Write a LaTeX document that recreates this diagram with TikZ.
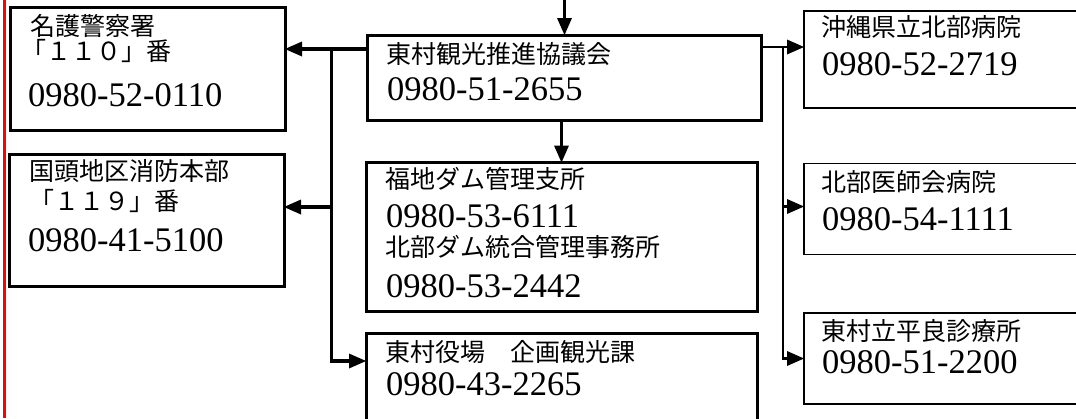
\documentclass[tikz,border=0pt]{standalone}
\usepackage{fontspec}
\usepackage{tikz}
\usetikzlibrary{arrows.meta}
\newfontfamily\jpfont{Noto Sans CJK JP}
\newfontfamily\numfont{Liberation Serif}
\tikzset{
    box/.style={rectangle, draw, line width=3pt, inner sep=0pt, outer sep=0pt},
    thinbox/.style={box, line width=1.3pt}
}
\tikzset{
    jp/.style={anchor=base west, inner sep=0pt,
    	font=\jpfont\fontsize{25}{29}\selectfont},
    num/.style={anchor=base west, inner sep=0pt,
    	font=\numfont\fontsize{34.5}{40}\selectfont}
}
\tikzset{
    conn/.style={line width=3.5pt, -{Triangle[length=17pt,width=15pt,line width=0pt]}},
    midconn/.style={conn, line width=2.5pt},
    thinconn/.style={conn, line width=1.2pt}
}

\begin{document}
\begin{tikzpicture}[x=1pt, y=-1pt]
  \useasboundingbox (0,0) rectangle (1076,418);
  \clip (0,0) rectangle (1076,418);
  \draw[red, line width=2.3pt] (4.5,0) -- (4.5,418);

  \node (police) [box, minimum width=275pt, minimum height=123pt] at (147.5,68.5) {};
  \node (fire) [box, minimum width=275pt, minimum height=132pt] at (146.5,220) {};
  \node (council) [box, minimum width=394pt, minimum height=85pt] at (564.5,77.5) {};
  \node (dam) [box, minimum width=391pt, minimum height=149pt] at (561.5,237) {};
  \node (office) [box, minimum width=391pt, minimum height=107pt] at (561.5,387) {};
  \node (hokubu) [thinbox, minimum width=296pt, minimum height=97pt] at (952,59.5) {};
  \node (ishikai) [thinbox, minimum width=296pt, minimum height=91pt] at (952,209.3) {};
  \node (clinic) [thinbox, minimum width=296pt, minimum height=91pt] at (952,358.5) {};

  \node (police1) [jp] at (30,35) {名護警察署};
  \node (police2) [jp] at (21,60) {「１１０」番};
  \node (police3) [num] at (28,106) {0980-52-0110};
  \node (fire1) [jp] at (29,180) {国頭地区消防本部};
  \node (fire2) [jp] at (29,210) {「１１９」番};
  \node (fire3) [num] at (28,251) {0980-41-5100};
  \node (council1) [jp] at (386,63) {東村観光推進協議会};
  \node (council2) [num] at (387,100) {0980-51-2655};
  \node (dam1) [jp] at (385,188) {福地ダム管理支所};
  \node (dam2) [num] at (386,227) {0980-53-6111};
  \node (dam3) [jp] at (385,256) {北部ダム統合管理事務所};
  \node (dam4) [num] at (386,297) {0980-53-2442};
  \node (office1) [jp] at (385,361) {東村役場　企画観光課};
  \node (office2) [num] at (386,395) {0980-43-2265};
  \node (hokubu1) [jp] at (821,36) {沖縄県立北部病院};
  \node (hokubu2) [num] at (822,75) {0980-52-2719};
  \node (ishikai1) [jp] at (821,191) {北部医師会病院};
  \node (ishikai2) [num] at (822,230) {0980-54-1111};
  \node (clinic1) [jp] at (821,340) {東村立平良診療所};
  \node (clinic2) [num] at (822,373) {0980-51-2200};

  \coordinate (top) at (564.5,-2);
  \coordinate (j1) at (331.5,49);
  \coordinate (j2) at (331.5,361);
  \coordinate (j3) at (331.5,207);
  \coordinate (j4) at (783,47);
  \coordinate (j5) at (783,358.5);
  \coordinate (j6) at (783,206.5);

  \draw[conn] (top) -- (council.north);
  \draw[conn] (council.south -| dam.north) -- (dam.north);
  \draw[conn] (council.west |- j1) -- (police.east |- j1);
  \draw[conn] (j1) -- (j2) -- (office.west |- j2);
  \draw[conn] (j3) -- (fire.east |- j3);
  \draw[thinconn] (council.east |- j4) -- (hokubu.west |- j4);
  \draw[midconn] (j4) -- (j5) -- (clinic.west |- j5);
  \draw[midconn] (j6) -- (ishikai.west |- j6);
\end{tikzpicture}
\end{document}
